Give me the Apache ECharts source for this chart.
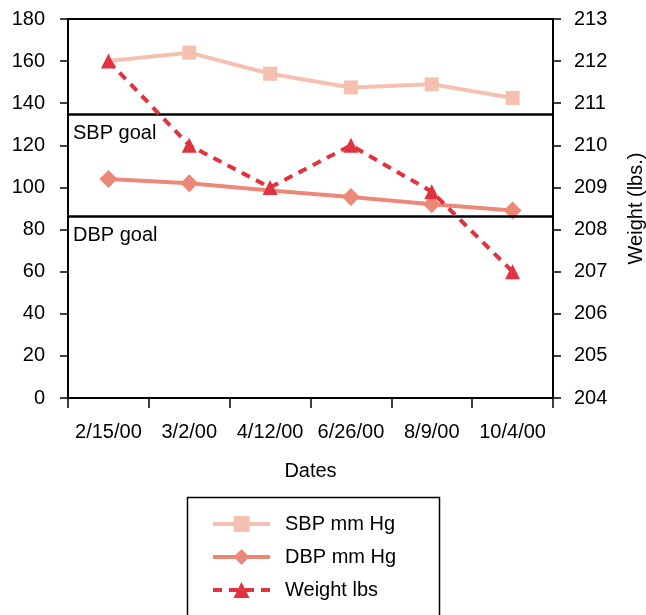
<!DOCTYPE html>
<html><head><meta charset="utf-8">
<script src="https://cdn.jsdelivr.net/npm/echarts@6/dist/echarts.min.js"></script>
<style>html,body{margin:0;padding:0;background:#fff}#c{width:646px;height:615px}</style>
</head><body><div id="c"></div>
<script>
const dates = ['2/15/00','3/2/00','4/12/00','6/26/00','8/9/00','10/4/00'];
const sbp = [160, 164, 154, 147.5, 149, 142.5];
const sbpHiddenMarker = [true, false, false, false, false, false];
const dbp = [104, 102, 98.5, 95.5, 92, 89];
const dbpHiddenMarker = [false, false, true, false, false, false];
const weight = [212, 210, 209, 210, 208.9, 207];
const goals = [{name:'SBP goal', value:135}, {name:'DBP goal', value:86.5}];
const leftTicks = {min:0, max:180, interval:20};
const rightTicks = {min:204, max:213, interval:1};

const FONT = 'Liberation Sans, Arial, Helvetica, sans-serif';
const chart = echarts.init(document.getElementById('c'), null, {renderer:'canvas'});
const txt = {color:'#000', fontFamily:FONT, fontSize:20};
chart.setOption({
  animation:false,
  backgroundColor:'#fff',
  textStyle:{fontFamily:FONT},
  grid:{left:68, right:93, top:19, bottom:217, show:true, borderColor:'#000', borderWidth:2, containLabel:false, outerBoundsMode:'none'},
  graphic:[{
    type:'rect', left:185, top:495, silent:true,
    shape:{width:252, height:140},
    style:{fill:'none', stroke:'#000', lineWidth:1.5}
  }],
  legend:{
    orient:'vertical', left:211, top:514,
    padding:0,
    itemWidth:57, itemHeight:20, itemGap:13,
    lineStyle:{width:4},
    textStyle:Object.assign({}, txt, {padding:[0,0,0,10], lineHeight:20}),
    data:['SBP mm Hg','DBP mm Hg','Weight lbs']
  },
  xAxis:{
    type:'category', data:dates, boundaryGap:true,
    name:'Dates', nameLocation:'middle', nameGap:63, nameTextStyle:txt,
    axisLine:{lineStyle:{color:'#000', width:2}},
    axisTick:{show:true, interval:0, length:10, inside:false, lineStyle:{color:'#000', width:1.5}},
    axisLabel:Object.assign({}, txt, {margin:24, interval:0}),
    splitLine:{show:false}
  },
  yAxis:[{
    type:'value', min:leftTicks.min, max:leftTicks.max, interval:leftTicks.interval,
    position:'left',
    axisLine:{show:true, lineStyle:{color:'#000', width:2}},
    axisTick:{show:true, length:8, lineStyle:{color:'#000', width:1.5}},
    axisLabel:Object.assign({}, txt, {margin:23}),
    splitLine:{show:false}
  },{
    type:'value', min:rightTicks.min, max:rightTicks.max, interval:rightTicks.interval,
    position:'right',
    name:'Weight (lbs.)', nameLocation:'middle', nameGap:73, nameRotate:90, nameTextStyle:txt,
    axisLine:{show:true, lineStyle:{color:'#000', width:2}},
    axisTick:{show:true, length:8, lineStyle:{color:'#000', width:1.5}},
    axisLabel:Object.assign({}, txt, {margin:21}),
    splitLine:{show:false}
  }],
  series:[{
    name:'SBP mm Hg', type:'line', yAxisIndex:0,
    data:sbp.map((v,i) => sbpHiddenMarker[i] ? {value:v, symbol:'none'} : v),
    symbol:'rect', symbolSize:14, z:3,
    itemStyle:{color:'#f5c0b0'}, lineStyle:{color:'#f5c0b0', width:4},
    markLine:{
      silent:true, symbol:['none','none'],
      lineStyle:{color:'#000', width:2.5, type:'solid'},
      label:Object.assign({}, txt, {show:true, position:'insideStartBottom', distance:[5,10], formatter:'{b}'}),
      data:goals.map(g => ({name:g.name, yAxis:g.value}))
    }
  },{
    name:'DBP mm Hg', type:'line', yAxisIndex:0,
    data:dbp.map((v,i) => dbpHiddenMarker[i] ? {value:v, symbol:'none'} : v),
    symbol:'diamond', symbolSize:18, z:4,
    itemStyle:{color:'#eb8878'}, lineStyle:{color:'#eb8878', width:4}
  },{
    name:'Weight lbs', type:'line', yAxisIndex:1, data:weight,
    symbol:'triangle', symbolSize:15, z:5,
    itemStyle:{color:'#e1333e'}, lineStyle:{color:'#e1333e', width:4, type:[9,7]}
  }]
});
</script></body></html>
